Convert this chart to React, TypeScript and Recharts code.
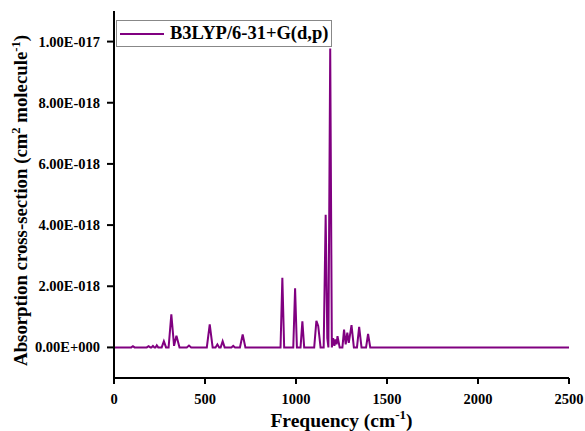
import React from "react";
import { LineChart, Line, XAxis, YAxis, Legend } from "recharts";

// Frequency (cm^-1) and absorption cross-section (units of 1E-018 cm^2 molecule^-1)
const frequency = [
  0, 95, 104, 113, 180, 190, 200, 206, 214, 222, 228, 235, 243,
  262, 274, 286, 300, 315, 330, 343, 360, 400, 412, 424,
  510, 526, 542, 558, 568, 578, 586, 597, 608, 645, 655, 665,
  692, 707, 722, 915, 925, 935, 985, 995, 1005, 1025, 1035, 1045,
  1100, 1112, 1122, 1135, 1152, 1163, 1172, 1178, 1188, 1197,
  1204, 1211, 1217, 1223, 1228, 1240, 1255, 1264, 1273, 1282, 1290,
  1305, 1318, 1335, 1347, 1360, 1385, 1396, 1408, 2500,
];
const crossSection = [
  0, 0, 0.04, 0, 0, 0.04, 0, 0, 0.05, 0, 0, 0.07, 0,
  0, 0.2, 0, 0, 1.08, 0.05, 0.38, 0, 0, 0.06, 0,
  0, 0.75, 0, 0, 0.1, 0, 0, 0.2, 0, 0, 0.05, 0,
  0, 0.42, 0, 0, 2.28, 0, 0, 1.93, 0, 0, 0.85, 0,
  0, 0.87, 0.7, 0, 0, 4.34, 0.3, 0, 9.77, 0,
  0.3, 0.05, 0.26, 0.1, 0.37, 0, 0, 0.58, 0.1, 0.48, 0.15,
  0.73, 0, 0, 0.67, 0, 0, 0.44, 0, 0,
];
const xTicks = [0, 500, 1000, 1500, 2000, 2500];
const yTicks = [0, 2, 4, 6, 8, 10];
const seriesName = "B3LYP/6-31+G(d,p)";

const data = frequency.map((f, i) => ({ f, v: crossSection[i] }));

const FONT = "Liberation Serif";
const PURPLE = "#800080";

function fmtY(v: number): string {
  if (v === 0) return "0.00E+000";
  const exp = Math.floor(Math.log10(Math.abs(v)) + 1e-9) - 18;
  const mant = v / Math.pow(10, exp + 18);
  const sign = exp < 0 ? "-" : "+";
  return mant.toFixed(2) + "E" + sign + String(Math.abs(exp)).padStart(3, "0");
}

const XTick = (props: any) => {
  const { x, y, payload } = props;
  return (
    <text x={x} y={y} dy={12} textAnchor="middle" fontFamily={FONT} fontWeight="bold" fontSize={14.5} fill="#000">
      {payload.value}
    </text>
  );
};

const YTick = (props: any) => {
  const { x, y, payload } = props;
  return (
    <text x={x} y={y} dy={5} textAnchor="end" fontFamily={FONT} fontWeight="bold" fontSize={14.5} fill="#000">
      {fmtY(payload.value)}
    </text>
  );
};

const renderYLabel = (props: any) => {
  const vb = props.viewBox || {};
  const cx = 27;
  const cy = (vb.y ?? 0) + (vb.height ?? 0) / 2 + 6;
  return (
    <text
      x={cx}
      y={cy}
      transform={`rotate(-90 ${cx} ${cy})`}
      textAnchor="middle"
      fontFamily={FONT}
      fontWeight="bold"
      fontSize={18.8}
      fill="#000"
    >
      Absorption cross-section (cm
      <tspan dy={-7} fontSize={12.5}>2</tspan>
      <tspan dy={7}> molecule</tspan>
      <tspan dy={-7} fontSize={12.5}>-1</tspan>
      <tspan dy={7}>)</tspan>
    </text>
  );
};

const renderXLabel = (props: any) => {
  const vb = props.viewBox || {};
  const cx = (vb.x ?? 0) + (vb.width ?? 0) / 2;
  const cy = 426.5;
  return (
    <text x={cx} y={cy} textAnchor="middle" fontFamily={FONT} fontWeight="bold" fontSize={19.5} fill="#000">
      Frequency (cm
      <tspan dy={-8} fontSize={13}>-1</tspan>
      <tspan dy={8}>)</tspan>
    </text>
  );
};

const renderLegend = () => (
  <div
    style={{
      display: "flex",
      alignItems: "center",
      border: "1px solid #888",
      height: 25,
      padding: "0 3px 0 3px",
      background: "#fff",
      boxSizing: "content-box",
    }}
  >
    <svg width={44} height={4} style={{ marginRight: 6 }}>
      <line x1={0} y1={2} x2={44} y2={2} stroke={PURPLE} strokeWidth={2} />
    </svg>
    <span style={{ fontFamily: FONT, fontWeight: "bold", fontSize: 18.5, color: "#000", whiteSpace: "nowrap" }}>
      {seriesName}
    </span>
  </div>
);

export default function App() {
  return (
    <div style={{ position: "absolute", left: 0, top: 0, width: 585, height: 431 }}>
      <LineChart width={585} height={431} data={data} margin={{ top: 11, right: 16, bottom: 0, left: 0 }}>
        <XAxis
          dataKey="f"
          type="number"
          domain={[0, 2500]}
          ticks={xTicks}
          interval={0}
          tick={<XTick />}
          tickSize={6}
          tickMargin={8}
          axisLine={{ stroke: "#000", strokeWidth: 2 }}
          tickLine={{ stroke: "#000", strokeWidth: 2 }}
          height={53}
          label={renderXLabel}
        />
        <XAxis
          xAxisId="top"
          orientation="top"
          dataKey="f"
          type="number"
          domain={[0, 2500]}
          tick={false}
          tickLine={false}
          axisLine={{ stroke: "#000", strokeWidth: 2 }}
          height={0}
        />
        <YAxis
          type="number"
          domain={[-1, 11]}
          ticks={yTicks}
          interval={0}
          tick={<YTick />}
          tickSize={7}
          tickMargin={7}
          axisLine={{ stroke: "#000", strokeWidth: 2 }}
          tickLine={{ stroke: "#000", strokeWidth: 2 }}
          width={114}
          allowDataOverflow
          label={renderYLabel}
        />
        <YAxis
          yAxisId="right"
          orientation="right"
          type="number"
          domain={[-1, 11]}
          tick={false}
          tickLine={false}
          axisLine={{ stroke: "#000", strokeWidth: 2 }}
          width={0}
        />
        <Legend
          layout="vertical"
          align="center"
          verticalAlign="middle"
          content={renderLegend}
          wrapperStyle={{ position: "absolute", top: 20, left: 116, width: "auto", height: "auto" }}
        />
        <Line
          type="linear"
          dataKey="v"
          name={seriesName}
          stroke={PURPLE}
          strokeWidth={2}
          dot={false}
          activeDot={false}
          isAnimationActive={false}
        />
      </LineChart>
    </div>
  );
}
